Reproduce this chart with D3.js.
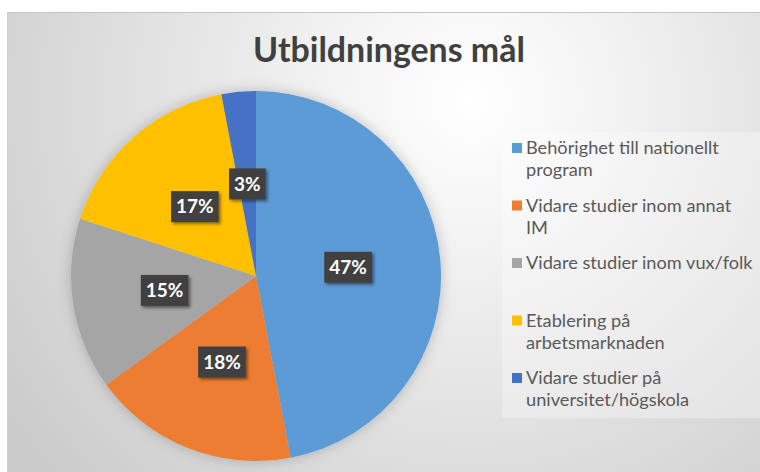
<!DOCTYPE html>
<html><head><meta charset="utf-8">
<script src="https://cdn.jsdelivr.net/npm/d3@7"></script>
<style>body{margin:0;background:#fff}svg{display:block}</style>
</head><body>
<svg id="chart" width="760" height="472"></svg>
<script>
const title = "Utbildningens mål";
const categories = [
  ["Behörighet till nationellt", "program"],
  ["Vidare studier inom annat", "IM"],
  ["Vidare studier inom vux/folk"],
  ["Etablering på", "arbetsmarknaden"],
  ["Vidare studier på", "universitet/högskola"]
];
const values = [47, 18, 15, 17, 3];
const colors = ["#5B9BD5", "#ED7D31", "#A5A5A5", "#FFC000", "#4472C4"];

const svg = d3.select("#chart");
const W = 760, H = 472;
const defs = svg.append("defs");

const bg = defs.append("radialGradient").attr("id", "bg")
  .attr("gradientUnits", "userSpaceOnUse")
  .attr("cx", 470).attr("cy", 100).attr("r", 560);
bg.append("stop").attr("offset", 0).attr("stop-color", "#ffffff");
bg.append("stop").attr("offset", 0.25).attr("stop-color", "#f3f3f3");
bg.append("stop").attr("offset", 1).attr("stop-color", "#cbcbcb");

const pieShadow = defs.append("filter").attr("id", "pieShadow")
  .attr("x", "-20%").attr("y", "-20%").attr("width", "140%").attr("height", "140%");
pieShadow.append("feDropShadow").attr("dx", 0).attr("dy", 0)
  .attr("stdDeviation", 7).attr("flood-color", "#000").attr("flood-opacity", 0.22);

const boxShadow = defs.append("filter").attr("id", "boxShadow")
  .attr("x", "-30%").attr("y", "-30%").attr("width", "160%").attr("height", "160%");
boxShadow.append("feDropShadow").attr("dx", 2).attr("dy", 2)
  .attr("stdDeviation", 1.8).attr("flood-color", "#000").attr("flood-opacity", 0.45);

// frame
svg.append("rect").attr("x", 7).attr("y", 12).attr("width", W - 7).attr("height", H - 12)
  .attr("fill", "url(#bg)");
svg.append("line").attr("x1", 7).attr("x2", W).attr("y1", 12.5).attr("y2", 12.5)
  .attr("stroke", "#c4c4c4").attr("stroke-width", 1);
svg.append("line").attr("x1", 7.5).attr("x2", 7.5).attr("y1", 12).attr("y2", H)
  .attr("stroke", "#cfcfcf").attr("stroke-width", 1);

// title
const t = svg.append("text").text(title)
  .attr("x", 389).attr("y", 62).attr("text-anchor", "middle")
  .attr("font-family", "Lato, 'Open Sans', sans-serif").attr("font-weight", 700)
  .attr("font-size", 34).attr("fill", "#404040");
{
  const w = t.node().getComputedTextLength();
  t.attr("font-size", 34 * 272 / w);
}

// pie
const cx = 256, cy = 276, R = 185;
const pie = d3.pie().sort(null).value(d => d)(values);
const arc = d3.arc().innerRadius(0).outerRadius(R);
const g = svg.append("g").attr("transform", `translate(${cx},${cy})`);
g.append("g").attr("filter", "url(#pieShadow)")
  .selectAll("path").data(pie).join("path")
  .attr("d", arc).attr("fill", (d, i) => colors[i]);

// labels
const lab = g.selectAll("g.lab").data(pie).join("g").attr("class", "lab")
  .attr("transform", d => `translate(${arc.centroid(d)})`);
lab.each(function (d) {
  const sel = d3.select(this);
  const rect = sel.append("rect").attr("fill", "#404040").attr("filter", "url(#boxShadow)");
  const tx = sel.append("text").text(d.data + "%")
    .attr("text-anchor", "middle").attr("dy", "0.35em")
    .attr("font-family", "Lato, 'Open Sans', sans-serif").attr("font-weight", 700)
    .attr("font-size", 19).attr("fill", "#ffffff");
  const w = tx.node().getComputedTextLength();
  rect.attr("x", -w / 2 - 5).attr("y", -15.5).attr("width", w + 10).attr("height", 31);
});

// legend
svg.append("rect").attr("x", 502).attr("y", 132).attr("width", W - 502).attr("height", 418 - 132)
  .attr("fill", "#ffffff").attr("fill-opacity", 0.3);
const leg = svg.append("g");
const lfont = 17;
const items = leg.selectAll("g").data(categories).join("g")
  .attr("transform", (d, i) => `translate(512, ${154 + i * 57.5})`);
items.append("rect").attr("x", 0).attr("y", -11).attr("width", 10).attr("height", 10)
  .attr("fill", (d, i) => colors[i]);
const texts = items.append("text")
  .attr("x", 14).attr("y", 0)
  .attr("font-family", "Lato, 'Open Sans', sans-serif")
  .attr("font-size", lfont).attr("fill", "#595959");
texts.selectAll("tspan").data(d => d).join("tspan")
  .attr("x", 14).attr("dy", (d, i) => i === 0 ? 0 : 22).text(d => d);
{
  const first = texts.select("tspan").node();
  const w = first.getComputedTextLength();
  texts.attr("font-size", lfont * 193 / w);
}
</script>
</body></html>
